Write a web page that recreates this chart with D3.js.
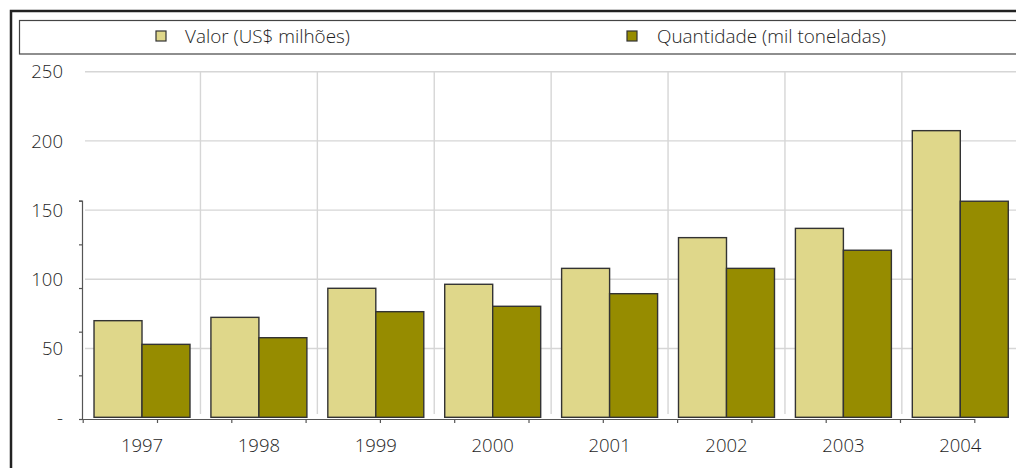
<!DOCTYPE html>
<html><head><meta charset="utf-8">
<script src="https://cdn.jsdelivr.net/npm/d3@7"></script>
<style>body{margin:0;background:#fff}svg{display:block}text{font-family:"Open Sans",sans-serif;font-weight:300;fill:#1e1e1e}</style>
</head><body><svg id="c" width="1016" height="468"></svg>
<script>
const categories = ["1997","1998","1999","2000","2001","2002","2003","2004"];
const seriesNames = ["Valor (US$ milhões)","Quantidade (mil toneladas)"];
const valor = [70.1, 72.5, 93.5, 96.4, 107.9, 130.1, 136.8, 207.4];
const quantidade = [53.0, 57.8, 76.6, 80.5, 89.6, 107.9, 121.0, 156.4];
const yTicks = [0, 50, 100, 150, 200, 250];
const yTickLabels = ["-", "50", "100", "150", "200", "250"];
const colors = ["#DFD78A", "#968C00"];

const svg = d3.select("#c");
const y = d3.scaleLinear().domain([0, 250]).range([417.7, 71.7]);
const x0 = d3.scaleBand().domain(categories).range([83.5, 1018.8]).paddingInner(0.179).paddingOuter(0.09);
const x1 = d3.scaleBand().domain([0,1]).range([0, x0.bandwidth()]);
const step = x0.step();

// outer frame
svg.append("path").attr("d","M11,468 V11 H1016").attr("fill","none").attr("stroke","#222").attr("stroke-width",2.5);

// gridlines
svg.append("g").selectAll("line").data(yTicks.filter(d=>d>0)).join("line")
  .attr("x1",85).attr("x2",1016).attr("y1",d=>y(d)).attr("y2",d=>y(d))
  .attr("stroke","#d6d6d6").attr("stroke-width",1.4);
svg.append("g").selectAll("line").data(categories.slice(1)).join("line")
  .attr("x1",d=>x0(d)-(step-x0.bandwidth())/2).attr("x2",d=>x0(d)-(step-x0.bandwidth())/2)
  .attr("y1",y(250)).attr("y2",414)
  .attr("stroke","#d6d6d6").attr("stroke-width",1.4);

// bars
const g = svg.append("g").selectAll("g").data(categories).join("g")
  .attr("transform",d=>`translate(${x0(d)},0)`);
g.selectAll("rect").data((d,i)=>[valor[i], quantidade[i]]).join("rect")
  .attr("x",(d,j)=>x1(j)).attr("width",x1.bandwidth())
  .attr("y",d=>y(d)).attr("height",d=>y(0)-y(d)-0.4)
  .attr("fill",(d,j)=>colors[j]).attr("stroke","#333").attr("stroke-width",1.4);

// secondary axis lines (as in reference)
const ySec = d3.scaleLinear().domain([0,5]).range([419, 200.7]);
const ya = svg.append("g").attr("transform","translate(82,0)")
  .call(d3.axisLeft(ySec).ticks(5).tickSize(3).tickSizeOuter(3).tickFormat(""));
ya.selectAll("path,line").attr("stroke","#555").attr("stroke-width",1.2);
const xSec = d3.scaleLinear().domain([0,12]).range([82.7, 82.7+74.3*12]);
const xa = svg.append("g").attr("transform","translate(0,419)")
  .call(d3.axisBottom(xSec).ticks(12).tickSize(4).tickSizeOuter(0).tickFormat(""));
xa.selectAll("path,line").attr("stroke","#555").attr("stroke-width",1.2);

// y labels
svg.append("g").selectAll("text").data(yTicks).join("text")
  .attr("x",63).attr("y",d=>y(d)+6.6).attr("text-anchor","end")
  .style("font-size","18.5px").text((d,i)=>yTickLabels[i]);

// x labels
svg.append("g").selectAll("text").data(categories).join("text")
  .attr("x",d=>x0(d)+x0.bandwidth()/2).attr("y",451.5).attr("text-anchor","middle")
  .style("font-size","18.5px").text(d=>d);

// legend
svg.append("rect").attr("x",19.5).attr("y",20.5).attr("width",1010).attr("height",33.5)
  .attr("fill","none").attr("stroke","#444").attr("stroke-width",1.2);
const legX = [156, 627], legT = [185, 657];
const lg = svg.append("g").selectAll("g").data(seriesNames).join("g");
lg.append("rect").attr("x",(d,i)=>legX[i]).attr("y",31).attr("width",10).attr("height",10)
  .attr("fill",(d,i)=>colors[i]).attr("stroke","#333").attr("stroke-width",1.2);
lg.append("text").attr("x",(d,i)=>legT[i]).attr("y",42.5).style("font-size","18.9px").text(d=>d);
</script></body></html>
